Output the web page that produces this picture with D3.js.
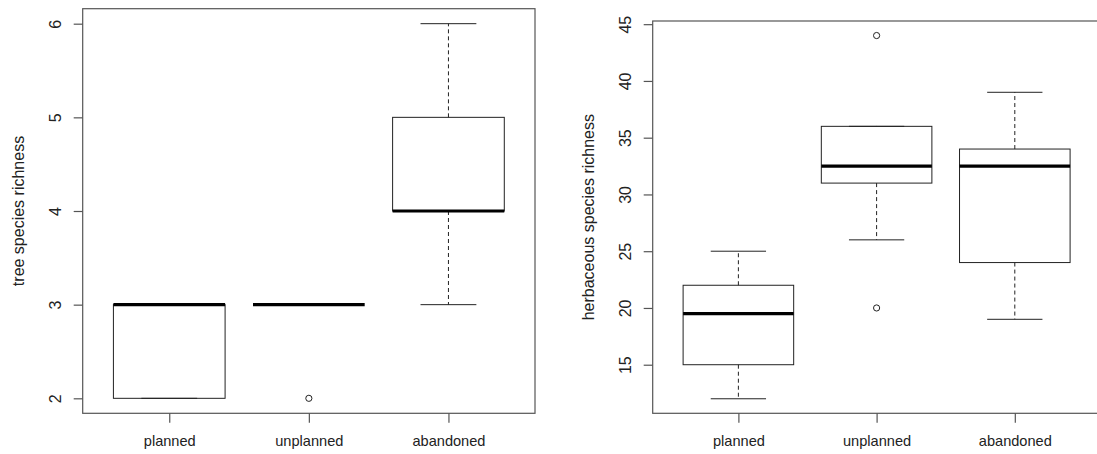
<!DOCTYPE html>
<html>
<head>
<meta charset="utf-8">
<script src="https://cdn.jsdelivr.net/npm/d3@7"></script>
<style>
  html, body { margin: 0; padding: 0; background: #fff; }
  svg { display: block; }
  text { font-family: "Liberation Sans", Arial, Helvetica, sans-serif; fill: #222; }
</style>
</head>
<body>
<svg id="chart" width="1097" height="454"></svg>
<script>
// Groups shown on both panels
const categories = ["planned", "unplanned", "abandoned"];

// Tree species richness: five-number summaries per group, plus outliers
const treeLow    = [2, 3, 3];
const treeQ1     = [2, 3, 4];
const treeMedian = [3, 3, 4];
const treeQ3     = [3, 3, 5];
const treeHigh   = [3, 3, 6];
const treeOutliers = [[], [2], []];
const treeTicks  = [2, 3, 4, 5, 6];

// Herbaceous species richness
const herbLow    = [12, 26, 19];
const herbQ1     = [15, 31, 24];
const herbMedian = [19.5, 32.5, 32.5];
const herbQ3     = [22, 36, 34];
const herbHigh   = [25, 36, 39];
const herbOutliers = [[], [20, 44], []];
const herbTicks  = [15, 20, 25, 30, 35, 40, 45];

const svg = d3.select("#chart");
const FONT_X = 14.6;   // horizontal labels
const FONT_Y = 16;     // labels running along the y axis

function boxPanel(opts) {
  const { left, right, top, bottom, yDomain, title,
          low, q1, med, q3, high, outliers, ticks } = opts;

  // R-style x range: 0.5..n+0.5 padded by 4%
  const n = categories.length;
  const pad = 0.04 * n;
  const x = d3.scaleLinear().domain([0.5 - pad, n + 0.5 + pad]).range([left, right]);
  const y = d3.scaleLinear().domain(yDomain).range([bottom, top]);
  const g = svg.append("g");

  const boxW = x(1.4) - x(1.0);     // half of 0.8 box width
  const capW = boxW / 2;            // staples at half the box width

  categories.forEach((c, i) => {
    const cx = x(i + 1);
    const stroke = "#222";
    // whiskers (dashed)
    g.append("line").attr("x1", cx).attr("x2", cx)
      .attr("y1", y(q3[i])).attr("y2", y(high[i]))
      .attr("stroke", stroke).attr("stroke-dasharray", "4,3");
    g.append("line").attr("x1", cx).attr("x2", cx)
      .attr("y1", y(q1[i])).attr("y2", y(low[i]))
      .attr("stroke", stroke).attr("stroke-dasharray", "4,3");
    // staples
    [low[i], high[i]].forEach(v => {
      g.append("line").attr("x1", cx - capW).attr("x2", cx + capW)
        .attr("y1", y(v)).attr("y2", y(v)).attr("stroke", stroke);
    });
    // box
    g.append("rect")
      .attr("x", cx - boxW).attr("width", 2 * boxW)
      .attr("y", y(q3[i])).attr("height", Math.max(0, y(q1[i]) - y(q3[i])))
      .attr("fill", "none").attr("stroke", stroke);
    // median
    g.append("line").attr("x1", cx - boxW).attr("x2", cx + boxW)
      .attr("y1", y(med[i])).attr("y2", y(med[i]))
      .attr("stroke", "#000").attr("stroke-width", 3.2);
    // outliers
    outliers[i].forEach(v => {
      g.append("circle").attr("cx", cx).attr("cy", y(v)).attr("r", 3.1)
        .attr("fill", "none").attr("stroke", stroke).attr("stroke-width", 1);
    });
  });

  // frame
  g.append("rect").attr("x", left).attr("y", top)
    .attr("width", right - left).attr("height", bottom - top)
    .attr("fill", "none").attr("stroke", "#555").attr("stroke-width", 1.2);

  // y axis with labels parallel to the axis
  const ya = g.append("g").attr("transform", `translate(${left},0)`)
    .call(d3.axisLeft(y).tickValues(ticks).tickFormat(d3.format("d"))
      .tickSize(9).tickSizeOuter(0));
  ya.select(".domain").remove();
  ya.selectAll(".tick line").attr("stroke", "#555").attr("stroke-width", 1.2);
  ya.selectAll(".tick text")
    .attr("transform", "rotate(-90)")
    .attr("x", 0).attr("y", -22).attr("dy", 0)
    .attr("text-anchor", "middle")
    .style("font-size", FONT_Y + "px").style("fill", "#222");

  // x axis
  const xa = g.append("g").attr("transform", `translate(0,${bottom})`)
    .call(d3.axisBottom(x).tickValues(categories.map((c, i) => i + 1))
      .tickFormat((d, i) => categories[i]).tickSize(9.5).tickSizeOuter(0));
  xa.select(".domain").remove();
  xa.selectAll(".tick line").attr("stroke", "#555").attr("stroke-width", 1.2);
  xa.selectAll(".tick text").attr("y", 0).attr("dy", 0)
    .attr("transform", "translate(0,33)")
    .style("font-size", FONT_X + "px").style("fill", "#222");

  // y title, centred on the plot region
  g.append("text")
    .attr("transform", `translate(${left - 59},${(top + bottom) / 2}) rotate(-90)`)
    .attr("text-anchor", "middle")
    .style("font-size", FONT_Y + "px")
    .text(title);
}

boxPanel({
  left: 82.7, right: 535, top: 8.7, bottom: 413.3,
  yDomain: [1.84, 6.16], title: "tree species richness",
  low: treeLow, q1: treeQ1, med: treeMedian, q3: treeQ3, high: treeHigh,
  outliers: treeOutliers, ticks: treeTicks
});

boxPanel({
  left: 652.7, right: 1100.5, top: 21, bottom: 413.3,
  yDomain: [10.72, 45.28], title: "herbaceous species richness",
  low: herbLow, q1: herbQ1, med: herbMedian, q3: herbQ3, high: herbHigh,
  outliers: herbOutliers, ticks: herbTicks
});
</script>
</body>
</html>
